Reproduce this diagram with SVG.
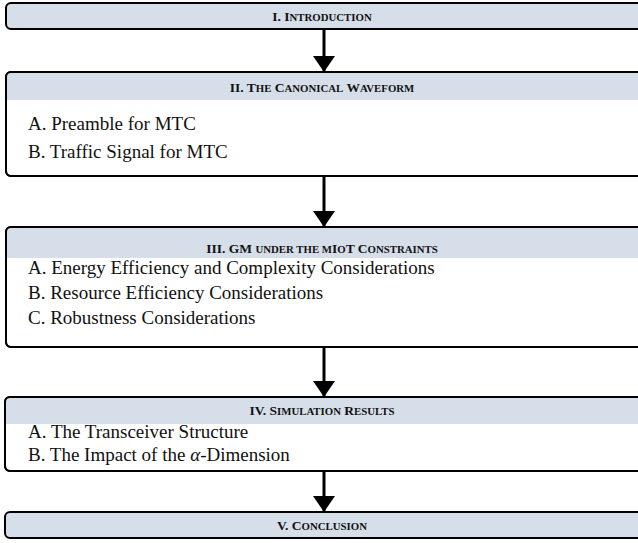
<svg xmlns="http://www.w3.org/2000/svg" width="638" height="543" viewBox="0 0 638 543">
<style>
.box{fill:#ffffff;stroke:#000000;stroke-width:2}
.hdr{fill:#d6dfe9}
.frame{fill:none;stroke:#000000;stroke-width:2}
.ttl{font-weight:bold;font-size:13.5px;fill:#111;text-anchor:middle}
.sc{font-size:10.8px}
.arr{stroke:#000;stroke-width:3;fill:none}
</style>
<defs>
<marker id="ah" markerUnits="userSpaceOnUse" markerWidth="16" markerHeight="22" refX="15" refY="8" orient="auto" viewBox="0 0 16 16" preserveAspectRatio="none">
<path d="M0,0 L16,8 L0,16 z" fill="#000"/>
</marker>
</defs>
<rect width="638" height="543" fill="#fff"/>
<g id="connectors">
<line class="arr" x1="324" y1="30" x2="324" y2="71" marker-end="url(#ah)"/>
<line class="arr" x1="324" y1="177" x2="324" y2="226" marker-end="url(#ah)"/>
<line class="arr" x1="324" y1="348" x2="324" y2="396" marker-end="url(#ah)"/>
<line class="arr" x1="324" y1="472" x2="324" y2="511" marker-end="url(#ah)"/>
</g>
<g id="node1">
<rect class="box hdr" x="6" y="3" width="645" height="26" rx="5"/>
<text class="ttl" x="322" y="21" font-family="Liberation Serif">I. I<tspan class="sc">NTRODUCTION</tspan></text>
</g>
<g id="node2">
<rect class="box" x="6" y="72" width="645" height="104" rx="5"/>
<path class="hdr" d="M7,73 H640 V100 H7 Z"/>
<rect class="frame" x="6" y="72" width="645" height="104" rx="5"/>
<text class="ttl" x="322" y="92" font-family="Liberation Serif">II. T<tspan class="sc">HE</tspan> C<tspan class="sc">ANONICAL</tspan> W<tspan class="sc">AVEFORM</tspan></text>
<text x="28" y="130" font-family="Liberation Serif" font-size="19" fill="#111">A. Preamble for MTC</text>
<text x="28" y="158" font-family="Liberation Serif" font-size="19" fill="#111">B. Traffic Signal for MTC</text>
</g>
<g id="node3">
<rect class="box" x="6" y="227" width="645" height="120" rx="5"/>
<path class="hdr" d="M7,228 H640 V258 H7 Z"/>
<rect class="frame" x="6" y="227" width="645" height="120" rx="5"/>
<text class="ttl" x="322" y="253" font-family="Liberation Serif">III. GM <tspan class="sc">UNDER THE M</tspan>I<tspan class="sc">O</tspan>T C<tspan class="sc">ONSTRAINTS</tspan></text>
<text x="28" y="274" font-family="Liberation Serif" font-size="19" fill="#111">A. Energy Efficiency and Complexity Considerations</text>
<text x="28" y="299" font-family="Liberation Serif" font-size="19" fill="#111">B. Resource Efficiency Considerations</text>
<text x="28" y="324" font-family="Liberation Serif" font-size="19" fill="#111">C. Robustness Considerations</text>
</g>
<g id="node4">
<rect class="box" x="5" y="397" width="645" height="74" rx="5"/>
<path class="hdr" d="M6,398 H640 V424 H6 Z"/>
<rect class="frame" x="5" y="397" width="645" height="74" rx="5"/>
<text class="ttl" x="322" y="415" font-family="Liberation Serif">IV. S<tspan class="sc">IMULATION</tspan> R<tspan class="sc">ESULTS</tspan></text>
<text x="28" y="438" font-family="Liberation Serif" font-size="19" fill="#111">A. The Transceiver Structure</text>
<text x="28" y="461" font-family="Liberation Serif" font-size="19" fill="#111">B. The Impact of the <tspan font-style="italic">α</tspan>-Dimension</text>
</g>
<g id="node5">
<rect class="box hdr" x="5" y="512" width="645" height="26" rx="5"/>
<text class="ttl" x="322" y="530" font-family="Liberation Serif">V. C<tspan class="sc">ONCLUSION</tspan></text>
</g>
</svg>
